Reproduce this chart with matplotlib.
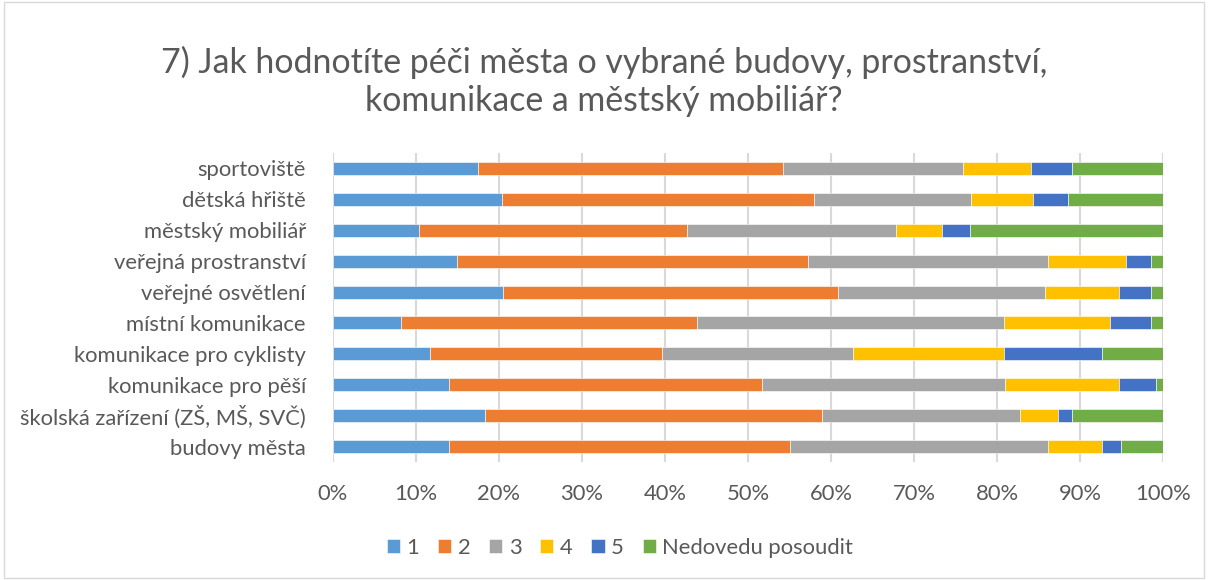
import matplotlib
matplotlib.use("Agg")
import matplotlib.pyplot as plt
from matplotlib.patches import Rectangle
from matplotlib.ticker import FuncFormatter

plt.rcParams['font.family'] = ['Lato', 'DejaVu Sans']

categories = ["sportoviště", "dětská hřiště", "městský mobiliář", "veřejná prostranství",
              "veřejné osvětlení", "místní komunikace", "komunikace pro cyklisty",
              "komunikace pro pěší", "školská zařízení (ZŠ, MŠ, SVČ)", "budovy města"]
series_names = ["1", "2", "3", "4", "5", "Nedovedu posoudit"]
colors = ["#5B9BD5", "#ED7D31", "#A5A5A5", "#FFC000", "#4472C4", "#70AD47"]

s1 = [17.5, 20.4, 10.4, 14.9, 20.5, 8.2, 11.7, 14.0, 18.3, 14.0]
s2 = [36.7, 37.5, 32.2, 42.3, 40.4, 35.6, 27.9, 37.7, 40.6, 41.0]
s3 = [21.7, 19.0, 25.2, 29.0, 24.9, 37.1, 23.1, 29.3, 23.9, 31.1]
s4 = [8.2, 7.4, 5.6, 9.3, 8.9, 12.7, 18.2, 13.7, 4.6, 6.5]
s5 = [4.9, 4.2, 3.4, 3.0, 3.8, 4.9, 11.7, 4.5, 1.6, 2.3]
s6 = [11.0, 11.5, 23.2, 1.5, 1.5, 1.5, 7.4, 0.8, 11.0, 5.1]
series = [s1, s2, s3, s4, s5, s6]

fig = plt.figure(figsize=(12.08, 5.80), dpi=100)
ax = fig.add_axes([333/1208, 1-462/580, 830/1208, 309/580])

n = len(categories)
ypos = list(range(n))[::-1]
left = [0.0]*n
tot = [sum(r) for r in zip(*series)]
for vals, name, col in zip(series, series_names, colors):
    w = [v/t*100 for v, t in zip(vals, tot)]
    ax.barh(ypos, w, left=left, height=0.42, color=col, label=name,
            edgecolor='white', linewidth=0.4, zorder=3)
    left = [l+x for l, x in zip(left, w)]

ax.set_xlim(0, 100)
ax.set_ylim(-0.5, n-0.5)
ax.set_xticks(range(0, 101, 10))
ax.xaxis.set_major_formatter(FuncFormatter(lambda v, p: f"{int(v)}%"))
ax.set_yticks(ypos)
ax.set_yticklabels(categories)
ax.grid(axis='x', color='#D9D9D9', linewidth=1.5, zorder=0)
for sp in ax.spines.values():
    sp.set_visible(False)
ax.tick_params(axis='both', length=0, labelsize=15.8, colors='#595959')
ax.tick_params(axis='y', pad=19.5)
ax.tick_params(axis='x', pad=16)

fig.text(0.5, 1-62/580, "7) Jak hodnotíte péči města o vybrané budovy, prostranství,",
         ha='center', va='center', fontsize=24.4, color='#595959')
fig.text(0.5, 1-101/580, "komunikace a městský mobiliář?",
         ha='center', va='center', fontsize=24.4, color='#595959')

h, l = ax.get_legend_handles_labels()
fig.legend(h, l, loc='center', bbox_to_anchor=(620/1208, 1-548/580), ncol=6,
           frameon=False, fontsize=15.8, handlelength=0.6, handleheight=0.6,
           handletextpad=0.3, columnspacing=0.85, labelcolor='#595959')

fig.patches.append(Rectangle((0.003, 0.003), 0.994, 0.994, transform=fig.transFigure,
                             fill=False, edgecolor='#D9D9D9', linewidth=1))
fig.savefig("out.png", dpi=100, facecolor='white')
